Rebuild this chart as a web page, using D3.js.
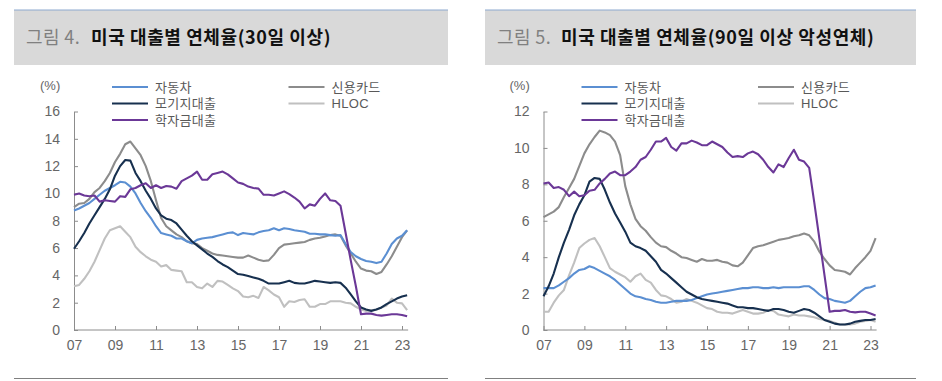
<!DOCTYPE html>
<html>
<head>
<meta charset="utf-8">
<script src="https://cdn.jsdelivr.net/npm/d3@7"></script>
<style>
  body { margin: 0; background: #fff; }
  svg { display: block; }
</style>
</head>
<body>
<svg id="chart" width="942" height="381"></svg>
<script>
// legend / series names and colours
const seriesNames = ["자동차", "신용카드", "모기지대출", "HLOC", "학자금대출"];
const seriesColors = ["#5b8fd2", "#8c8c8c", "#17304f", "#c0c0c0", "#6b3897"];

// x axis ticks
const tickYears = [2007, 2009, 2011, 2013, 2015, 2017, 2019, 2021, 2023];
const tickLabels = ["07", "09", "11", "13", "15", "17", "19", "21", "23"];

// quarters 2007Q1 .. 2023Q2
const quarters = d3.range(66).map(i => 2007 + i / 4);

// 30+ days delinquency (그림 4)
const auto30 = [8.75, 8.9, 9.1, 9.3, 9.6, 9.9, 10.2, 10.4, 10.6, 10.85, 10.8, 10.5,
  10.0, 9.3, 8.7, 8.2, 7.6, 7.1, 7.0, 6.9, 6.7, 6.7, 6.5, 6.35, 6.6, 6.7, 6.75, 6.8,
  6.9, 7.0, 7.1, 7.15, 6.95, 7.1, 7.05, 7.0, 7.15, 7.25, 7.3, 7.45, 7.3, 7.45, 7.4, 7.3,
  7.25, 7.2, 7.05, 7.05, 7.0, 7.0, 6.95, 6.9, 6.95, 6.3, 5.7, 5.4, 5.2, 5.05, 5.0, 4.9,
  5.0, 5.6, 6.3, 6.7, 6.9, 7.3];
const card30 = [9.0, 9.25, 9.3, 9.6, 10.1, 10.4, 10.9, 11.5, 12.3, 12.9, 13.6, 13.8,
  13.3, 12.8, 12.0, 10.9, 9.5, 8.2, 7.6, 7.3, 7.0, 6.8, 6.5, 6.35, 6.3, 6.0, 5.8, 5.6,
  5.5, 5.45, 5.4, 5.35, 5.3, 5.3, 5.45, 5.3, 5.15, 5.05, 5.1, 5.5, 6.0, 6.25, 6.3, 6.35,
  6.4, 6.45, 6.6, 6.7, 6.75, 6.85, 6.95, 7.0, 6.9, 6.2, 5.6, 5.0, 4.5, 4.35, 4.3, 4.1,
  4.25, 4.8, 5.4, 6.1, 6.8, 7.3];
const mortgage30 = [5.95, 6.5, 7.1, 7.8, 8.4, 9.0, 9.6, 10.3, 11.3, 12.0, 12.45, 12.4,
  11.5, 10.9, 10.2, 9.6, 8.9, 8.4, 8.15, 8.05, 7.8, 7.35, 6.9, 6.5, 6.2, 5.9, 5.6, 5.35,
  5.05, 4.8, 4.6, 4.35, 4.1, 4.05, 3.95, 3.85, 3.75, 3.6, 3.4, 3.4, 3.4, 3.5, 3.6, 3.45,
  3.4, 3.4, 3.5, 3.6, 3.55, 3.5, 3.45, 3.5, 3.45, 3.1, 2.6, 2.1, 1.65, 1.5, 1.4, 1.5,
  1.65, 1.9, 2.1, 2.3, 2.45, 2.55];
const heloc30 = [3.2, 3.3, 3.75, 4.3, 5.0, 5.85, 6.7, 7.3, 7.45, 7.6, 7.2, 6.8,
  6.1, 5.7, 5.4, 5.15, 5.0, 4.65, 4.75, 4.4, 4.35, 4.3, 3.5, 3.5, 3.15, 3.05, 3.4, 3.15,
  3.6, 3.55, 3.3, 3.05, 2.85, 2.45, 2.4, 2.5, 2.35, 3.15, 2.9, 2.6, 2.4, 1.7, 2.1, 2.05,
  2.2, 2.25, 1.7, 1.7, 1.9, 1.9, 2.1, 2.1, 2.1, 2.0, 1.95, 1.7, 1.5, 1.4, 1.45, 1.5,
  1.65, 1.8, 2.3, 2.0, 1.95, 1.45];
const student30 = [9.9, 10.0, 9.85, 9.8, 9.85, 9.4, 9.5, 9.45, 9.4, 9.8, 9.75, 10.3,
  10.4, 10.6, 10.75, 10.4, 10.6, 10.4, 10.55, 10.5, 10.35, 10.9, 11.1, 11.3, 11.6, 11.0, 11.0, 11.4,
  11.5, 11.6, 11.4, 11.1, 10.8, 10.7, 10.5, 10.4, 10.35, 9.9, 9.9, 9.85, 10.0, 10.15, 9.95, 9.7,
  9.4, 8.9, 9.2, 9.1, 9.6, 10.0, 9.5, 9.45, 9.1, 7.1, 5.1, 3.2, 1.15, 1.2, 1.2, 1.1,
  1.05, 1.1, 1.15, 1.15, 1.1, 1.0];

// 90+ days seriously delinquent (그림 5)
const auto90 = [2.3, 2.3, 2.3, 2.45, 2.65, 2.85, 3.1, 3.3, 3.35, 3.5, 3.4, 3.25,
  3.1, 2.95, 2.75, 2.5, 2.25, 2.0, 1.85, 1.8, 1.7, 1.65, 1.55, 1.5, 1.5, 1.55, 1.6, 1.6,
  1.6, 1.65, 1.75, 1.85, 1.95, 2.0, 2.05, 2.1, 2.15, 2.2, 2.25, 2.3, 2.3, 2.35, 2.35, 2.3,
  2.3, 2.35, 2.3, 2.35, 2.35, 2.35, 2.35, 2.4, 2.4, 2.2, 1.95, 1.75, 1.7, 1.6, 1.55, 1.5,
  1.6, 1.85, 2.1, 2.3, 2.35, 2.45];
const card90 = [6.2, 6.35, 6.5, 6.75, 7.3, 7.8, 8.3, 9.0, 9.7, 10.2, 10.6, 10.95,
  10.85, 10.7, 10.35, 9.6, 7.9, 6.9, 6.1, 5.7, 5.45, 5.1, 4.8, 4.6, 4.55, 4.35, 4.2, 4.0,
  3.95, 3.85, 3.75, 3.9, 3.8, 3.8, 3.85, 3.75, 3.7, 3.55, 3.5, 3.7, 4.1, 4.5, 4.6, 4.65,
  4.75, 4.85, 4.95, 5.0, 5.05, 5.15, 5.2, 5.3, 5.2, 4.85, 4.3, 3.9, 3.55, 3.3, 3.25, 3.2,
  3.05, 3.4, 3.7, 4.0, 4.35, 5.05];
const mortgage90 = [1.85, 2.4, 3.1, 4.0, 4.8, 5.5, 6.3, 6.9, 7.4, 8.15, 8.35, 8.3,
  7.7, 7.0, 6.4, 5.9, 5.4, 4.8, 4.6, 4.5, 4.35, 4.05, 3.75, 3.3, 3.1, 2.85, 2.6, 2.35,
  2.1, 1.95, 1.8, 1.7, 1.65, 1.6, 1.55, 1.5, 1.45, 1.35, 1.25, 1.25, 1.2, 1.2, 1.15, 1.1,
  1.05, 1.15, 1.15, 1.1, 1.0, 0.95, 1.05, 1.15, 1.1, 0.95, 0.75, 0.55, 0.45, 0.35, 0.3, 0.3,
  0.35, 0.45, 0.5, 0.55, 0.55, 0.6];
const heloc90 = [1.0, 1.0, 1.5, 1.9, 2.2, 3.0, 3.7, 4.5, 4.75, 4.95, 5.05, 4.6,
  4.0, 3.4, 3.2, 3.05, 2.9, 2.65, 2.95, 3.1, 2.75, 2.6, 2.2, 1.9, 1.85, 1.7, 1.5, 1.55,
  1.7, 1.6, 1.5, 1.35, 1.2, 1.15, 1.0, 0.95, 0.95, 0.9, 1.0, 1.1, 1.0, 0.9, 0.9, 0.95,
  1.1, 1.05, 0.85, 0.8, 0.75, 0.85, 0.8, 0.8, 0.75, 0.7, 0.6, 0.55, 0.5, 0.4, 0.3, 0.3,
  0.3, 0.35, 0.45, 0.5, 0.55, 0.45];
const student90 = [8.05, 8.1, 7.8, 7.85, 7.7, 7.35, 7.6, 7.35, 7.4, 7.65, 7.7, 8.05,
  8.3, 8.6, 8.7, 8.5, 8.5, 8.7, 8.95, 9.35, 9.5, 9.9, 10.35, 10.35, 10.55, 10.05, 9.85, 10.25,
  10.25, 10.4, 10.3, 10.15, 10.15, 10.35, 10.2, 10.05, 9.75, 9.5, 9.55, 9.5, 9.7, 9.8, 9.65, 9.35,
  8.95, 8.65, 9.1, 8.95, 9.45, 9.9, 9.35, 9.25, 8.9, 7.0, 5.0, 3.0, 1.0, 1.05, 1.05, 1.1,
  1.0, 0.97, 1.0, 1.0, 0.9, 0.8];

// draw order: HLOC, card, auto, mortgage, student
const drawOrder = [3, 1, 0, 2, 4];
// legend slots [column, row]
const legendSlots = [[0, 0], [1, 0], [0, 1], [1, 1], [0, 2]];

const panels = [
  { left: 14, right: 448, axisX: 74, tickEnd: 402, yMax: 16, num: "그림 4.",
    title: "미국 대출별 연체율(30일 이상)", titleX: 91,
    data: [auto30, card30, mortgage30, heloc30, student30] },
  { left: 485, right: 916, axisX: 543.5, tickEnd: 870.5, yMax: 12, num: "그림 5.",
    title: "미국 대출별 연체율(90일 이상 악성연체)", titleX: 561,
    data: [auto90, card90, mortgage90, heloc90, student90] }
];

const svg = d3.select("#chart");
const latin = "'Liberation Sans', Arial, 'Noto Sans CJK KR', sans-serif";
const korean = "'Noto Sans CJK KR', 'Noto Sans', sans-serif";

panels.forEach(function (p) {
  const g = svg.append("g");

  // header
  g.append("rect").attr("x", p.left).attr("y", 10)
    .attr("width", p.right - p.left).attr("height", 55).attr("fill", "#d9d9d9");
  g.append("line").attr("x1", p.left).attr("x2", p.right).attr("y1", 10).attr("y2", 10)
    .attr("stroke", "#8eaad0").attr("stroke-width", 1.2);
  g.append("text").attr("x", p.left + 12).attr("y", 44)
    .attr("font-family", korean).attr("font-size", 18).attr("letter-spacing", 0.4)
    .attr("fill", "#808080").text(p.num);
  g.append("text").attr("x", p.titleX).attr("y", 44)
    .attr("font-family", korean).attr("font-size", 18).attr("font-weight", "bold")
    .attr("letter-spacing", 0.6).attr("fill", "#111").text(p.title);

  // bottom rule
  g.append("line").attr("x1", p.left).attr("x2", p.right).attr("y1", 378.5).attr("y2", 378.5)
    .attr("stroke", "#808080").attr("stroke-width", 1);

  const x = d3.scaleLinear().domain([2007, 2023]).range([p.axisX, p.tickEnd]);
  const y = d3.scaleLinear().domain([0, p.yMax]).range([330, 111.5]);

  // y axis
  const yAxis = g.append("g").attr("transform", `translate(${p.axisX},0)`)
    .call(d3.axisLeft(y).tickValues(d3.range(0, p.yMax + 1, 2))
      .tickSizeInner(-4).tickSizeOuter(0).tickPadding(14));
  // x axis
  const xAxis = g.append("g").attr("transform", "translate(0,330)")
    .call(d3.axisBottom(x).tickValues(tickYears).tickFormat((d, i) => tickLabels[i])
      .tickSizeInner(-4).tickSizeOuter(0).tickPadding(10));
  xAxis.select(".domain").attr("d", `M${p.axisX},0H${x(quarters[quarters.length - 1]) + 1}`);

  [yAxis, xAxis].forEach(function (a) {
    a.select(".domain").attr("stroke", "#8c8c8c");
    a.selectAll(".tick line").attr("stroke", "#8c8c8c");
    a.selectAll(".tick text").attr("font-family", latin).attr("font-size", 14)
      .attr("fill", "#666");
  });

  g.append("text").attr("x", p.axisX - 34).attr("y", 90)
    .attr("font-family", latin).attr("font-size", 13).attr("fill", "#666").text("(%)");

  // lines
  const line = d3.line().x((d, i) => x(quarters[i])).y(d => y(d));
  drawOrder.forEach(function (k) {
    g.append("path").datum(p.data[k]).attr("d", line)
      .attr("fill", "none").attr("stroke", seriesColors[k])
      .attr("stroke-width", 2.1).attr("stroke-linejoin", "round");
  });

  // legend
  const lx = p.axisX + 38;
  seriesNames.forEach(function (name, k) {
    const col = legendSlots[k][0], row = legendSlots[k][1];
    const x0 = lx + col * 176.5, yy = 87 + row * 16.5;
    g.append("line").attr("x1", x0).attr("x2", x0 + 36).attr("y1", yy).attr("y2", yy)
      .attr("stroke", seriesColors[k]).attr("stroke-width", 2.2);
    g.append("text").attr("x", x0 + 43).attr("y", yy + 4.5)
      .attr("font-family", k === 3 ? latin : korean).attr("font-size", 13)
      .attr("letter-spacing", 0.3).attr("fill", "#595959").text(name);
  });
});
</script>
</body>
</html>
